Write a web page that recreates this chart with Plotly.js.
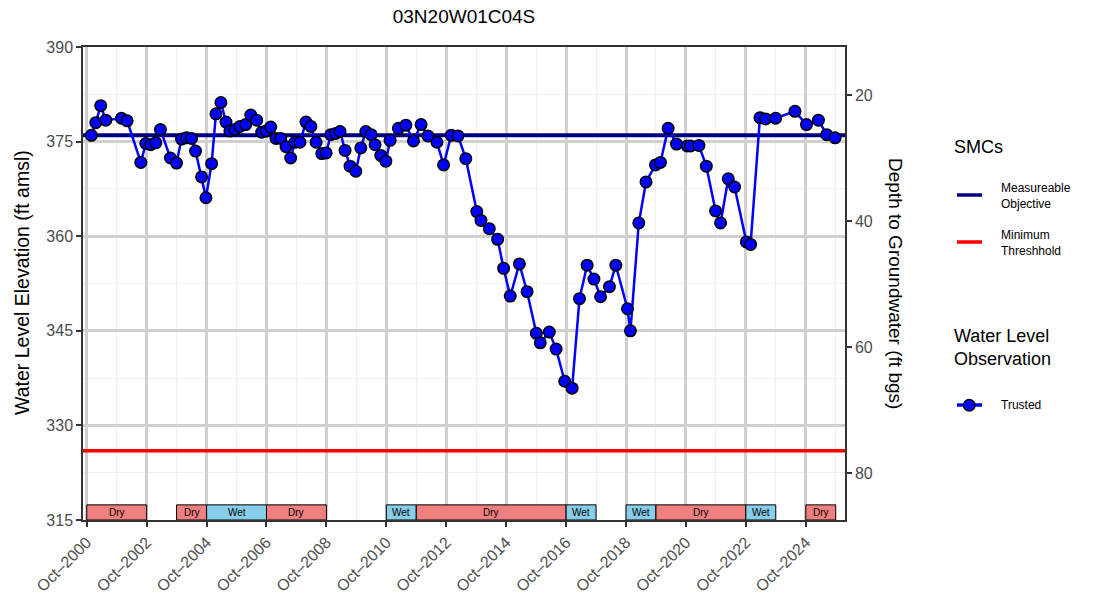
<!DOCTYPE html>
<html>
<head>
<meta charset="utf-8">
<script src="https://cdn.plot.ly/plotly-3.0.1.min.js"></script>
<style>
  body { margin: 0; background: #fff; }
  #grafico { width: 1097px; height: 597px; }
</style>
</head>
<body>
<div id="grafico"></div>
<script>
// water level observations (ft amsl)
const fechas = [
  '2000-11-26','2001-01-19','2001-03-20','2001-05-21','2001-11-28','2002-02-05','2002-07-22','2002-09-21','2002-11-20','2003-01-21',
  '2003-03-18','2003-07-18','2003-09-30','2003-11-30','2004-01-30','2004-03-31','2004-05-19','2004-08-01','2004-09-23','2004-12-01',
  '2005-01-23','2005-03-25','2005-05-25','2005-07-12','2005-09-12','2005-11-12','2006-01-20','2006-03-24','2006-06-03','2006-08-04',
  '2006-09-25','2006-11-22','2007-01-25','2007-03-24','2007-05-27','2007-07-23','2007-09-13','2007-11-13','2008-01-26','2008-03-25',
  '2008-05-28','2008-08-05','2008-09-27','2008-11-23','2009-01-21','2009-03-16','2009-05-16','2009-07-16','2009-09-24','2009-11-24',
  '2010-01-24','2010-03-30','2010-05-17','2010-07-26','2010-09-25','2010-11-16','2011-02-26','2011-05-27','2011-08-28','2011-11-29',
  '2012-02-20','2012-06-09','2012-08-29','2012-12-01','2013-02-21','2013-05-27','2013-10-08','2013-11-28','2014-03-09','2014-06-19',
  '2014-08-31','2014-11-20','2015-03-11','2015-06-13','2015-10-04','2015-11-21','2016-03-10','2016-06-01','2016-09-14','2016-12-13',
  '2017-03-13','2017-06-14','2017-09-05','2017-11-25','2018-03-13','2018-05-30','2018-10-19','2018-11-24','2019-03-06','2019-06-02',
  '2019-09-25','2019-11-25','2020-02-27','2020-06-08','2020-10-16','2020-11-26','2021-03-08','2021-06-06','2021-09-27','2021-11-27',
  '2022-03-01','2022-05-17','2022-10-07','2022-11-28','2023-03-22','2023-05-30','2023-09-29','2024-05-22','2024-10-09','2025-03-04',
  '2025-06-13','2025-09-23'
];
const nivel = [
  376.0, 378.0, 380.7, 378.4, 378.7, 378.3, 371.7, 374.7, 374.5, 374.8,
  376.9, 372.4, 371.6, 375.4, 375.6, 375.5, 373.5, 369.4, 366.1, 371.5,
  379.4, 381.2, 378.1, 376.7, 376.9, 377.4, 377.7, 379.2, 378.4, 376.5,
  376.7, 377.3, 375.5, 375.5, 374.2, 372.4, 374.9, 374.9, 378.1, 377.4,
  374.9, 373.1, 373.2, 376.1, 376.3, 376.6, 373.6, 371.1, 370.3, 374.0,
  376.6, 376.1, 374.5, 372.8, 371.9, 375.2, 377.1, 377.6, 375.1, 377.7,
  375.9, 374.9, 371.3, 376.0, 375.9, 372.3, 363.9, 362.5, 361.2, 359.5,
  354.9, 350.5, 355.6, 351.2, 344.6, 343.1, 344.8, 342.1, 337.0, 335.9,
  350.1, 355.4, 353.2, 350.4, 352.0, 355.4, 348.5, 345.0, 362.1, 368.6,
  371.3, 371.7, 377.1, 374.6, 374.3, 374.3, 374.4, 371.1, 364.0, 362.1,
  369.1, 367.8, 359.1, 358.7, 378.8, 378.6, 378.7, 379.8, 377.7, 378.4,
  376.1, 375.6
];

// sustainable management criteria
const objetivo = 376;     // measureable objective
const umbral = 326;       // minimum threshold
const superficie = 402.4; // ground surface, for depth axis

// water year types
const periodoInicio = ['2000-10-01','2003-10-01','2004-10-01','2006-10-01','2010-10-01','2011-10-01','2016-10-01','2018-10-01','2019-10-01','2022-10-01','2024-10-01'];
const periodoFin    = ['2002-10-01','2004-10-01','2006-10-01','2008-10-01','2011-10-01','2016-10-01','2017-10-01','2019-10-01','2022-10-01','2023-10-01','2025-10-01'];
const periodoTipo   = ['Dry','Dry','Wet','Dry','Wet','Dry','Wet','Wet','Dry','Wet','Dry'];

const rangoX = ['2000-08-16', '2026-01-22'];
const fuente = 'Liberation Sans, Arial, sans-serif';
const colorTipo = { Dry: '#F08080', Wet: '#87CEEB' };

// plot area in pixels, used to place the hand-made legend
const mIzq = 83, mDer = 252, mSup = 47, mInf = 77;
const anchoArea = 1097 - mIzq - mDer, altoArea = 597 - mSup - mInf;
const px = x => (x - mIzq) / anchoArea;
const py = y => (597 - mInf - y) / altoArea;

let mo = {
  type: 'scatter', mode: 'lines',
  x: rangoX, y: [objetivo, objetivo],
  line: { color: '#000080', width: 4 },
  showlegend: false, hoverinfo: 'skip'
};
let mt = {
  type: 'scatter', mode: 'lines',
  x: rangoX, y: [umbral, umbral],
  line: { color: '#FF0000', width: 3.5 },
  showlegend: false, hoverinfo: 'skip'
};
let obs = {
  type: 'scatter', mode: 'lines+markers',
  x: fechas, y: nivel,
  line: { color: '#0000FF', width: 2.5 },
  marker: { color: '#0000FF', size: 11.5, line: { color: '#000000', width: 1.5 } },
  name: 'Trusted', showlegend: false
};
// invisible trace so the depth axis is drawn
let prof = {
  type: 'scatter', mode: 'markers',
  x: fechas, y: nivel.map(v => superficie - v),
  yaxis: 'y2', marker: { opacity: 0 }, showlegend: false, hoverinfo: 'skip'
};

let shapes = [];
let annotations = [];
periodoTipo.forEach((t, i) => {
  shapes.push({
    type: 'rect', xref: 'x', yref: 'y',
    x0: periodoInicio[i], x1: periodoFin[i], y0: 315, y1: 317.4,
    fillcolor: colorTipo[t], line: { color: '#000', width: 1 }, layer: 'above'
  });
  let mid = new Date((new Date(periodoInicio[i]).getTime() + new Date(periodoFin[i]).getTime()) / 2);
  annotations.push({
    x: mid.toISOString().slice(0, 10), y: 316.2, xref: 'x', yref: 'y',
    text: t, showarrow: false, font: { size: 10, color: '#000' }
  });
});
// axis titles
annotations.push({
  xref: 'paper', yref: 'paper', x: px(896), y: py(283), xanchor: 'center', yanchor: 'middle',
  text: 'Depth to Groundwater (ft bgs)', textangle: 90, showarrow: false,
  font: { size: 19, color: '#000' }
});
annotations.push({
  xref: 'paper', yref: 'paper', x: px(22), y: py(283), xanchor: 'center', yanchor: 'middle',
  text: 'Water Level Elevation (ft amsl)', textangle: -90, showarrow: false,
  font: { size: 19.5, color: '#000' }
});

// legend
function titulo(texto, y) {
  annotations.push({ xref: 'paper', yref: 'paper', x: px(952), y: py(y), xanchor: 'left', yanchor: 'middle', align: 'left',
    text: texto, showarrow: false, font: { size: 18, color: '#000' } });
}
function etiqueta(texto, y) {
  annotations.push({ xref: 'paper', yref: 'paper', x: px(999), y: py(y), xanchor: 'left', yanchor: 'middle', align: 'left',
    text: texto, showarrow: false, font: { size: 12, color: '#000' } });
}
function simbolo(color, y) {
  shapes.push({ type: 'line', xref: 'paper', yref: 'paper', x0: px(957), x1: px(982), y0: py(y), y1: py(y),
    line: { color: color, width: 3.5 } });
}
titulo('SMCs', 147);
simbolo('#000080', 195); etiqueta('Measureable<br>Objective', 196);
simbolo('#FF0000', 242); etiqueta('Minimum<br>Threshhold', 243);
titulo('Water Level<br>Observation', 347);
simbolo('#0000FF', 405); etiqueta('Trusted', 405);
shapes.push({ type: 'circle', xref: 'paper', yref: 'paper', x0: px(963.5), x1: px(975), y0: py(399.5), y1: py(411),
  fillcolor: '#0000FF', line: { color: '#000', width: 1.5 } });

let ejeComun = {
  showline: true, linecolor: '#333333', linewidth: 1.5, mirror: true,
  ticks: 'outside', ticklen: 5, tickwidth: 2, tickcolor: '#333333',
  tickfont: { size: 16, color: '#4d4d4d' },
  gridcolor: '#d0d0d0', gridwidth: 2.5, zeroline: false
};

let layout = {
  width: 1097, height: 597,
  margin: { l: mIzq, r: mDer, t: mSup, b: mInf },
  paper_bgcolor: '#fff', plot_bgcolor: '#fff',
  font: { family: fuente, color: '#000' },
  title: { text: '03N20W01C04S', font: { size: 19, color: '#000' }, x: 0.5, xref: 'paper', y: 0.972, yanchor: 'middle' },
  showlegend: false,
  xaxis: Object.assign({}, ejeComun, {
    type: 'date', range: rangoX,
    tick0: '2000-10-01', dtick: 'M24', tickformat: '%b\u2013%Y', tickangle: -45,
    minor: { tick0: '2000-10-01', dtick: 'M12', showgrid: true, gridcolor: '#efefef', gridwidth: 1 }
  }),
  yaxis: Object.assign({}, ejeComun, {
    range: [315, 390], tick0: 315, dtick: 15,
    minor: { dtick: 7.5, tick0: 315, showgrid: true, gridcolor: '#efefef', gridwidth: 1 }
  }),
  yaxis2: Object.assign({}, ejeComun, {
    overlaying: 'y', side: 'right', anchor: 'x',
    range: [superficie - 315, superficie - 390], tick0: 0, dtick: 20,
    showgrid: false, mirror: false
  }),
  shapes: shapes,
  annotations: annotations
};

let config = { responsive: false, displayModeBar: false };

Plotly.newPlot('grafico', [mo, mt, obs, prof], layout, config);
</script>
</body>
</html>
